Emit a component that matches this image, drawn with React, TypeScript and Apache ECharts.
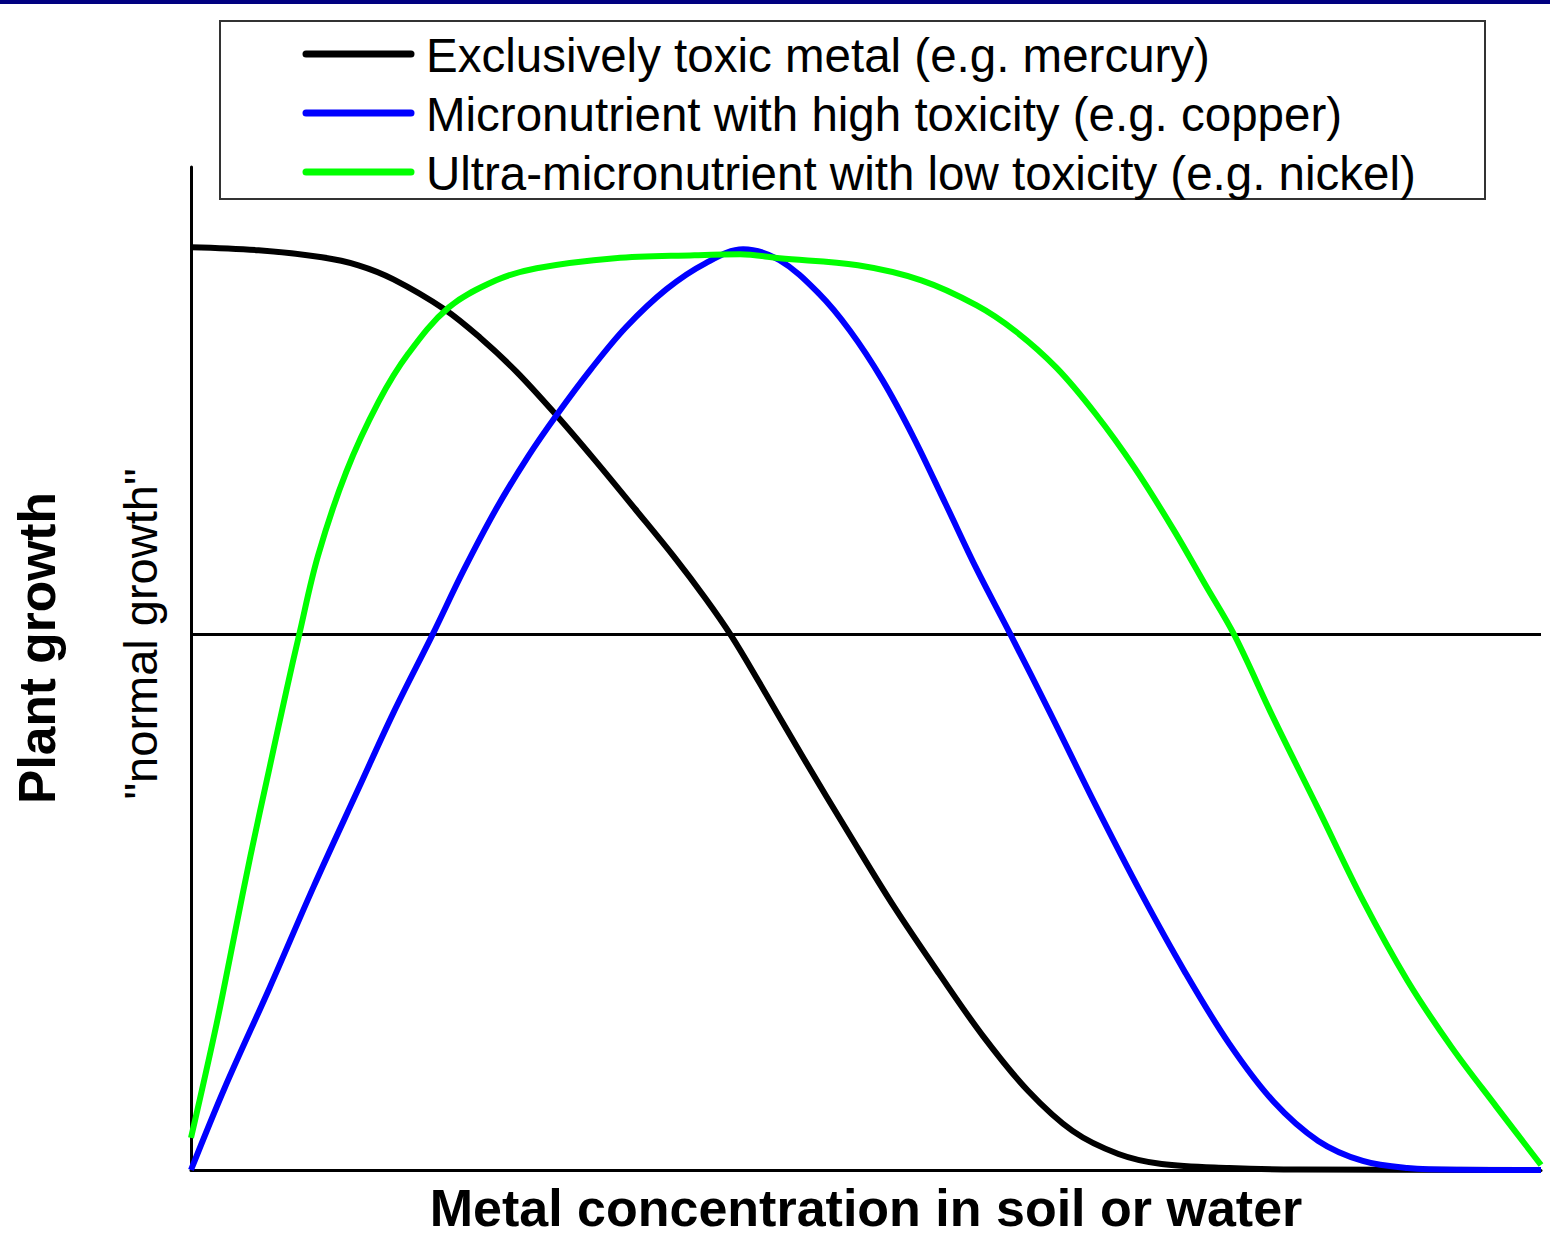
import React, { useEffect, useRef } from "react";
import * as echarts from "echarts";

// Series names (legend) and colours
const seriesNames = [
  "Exclusively toxic metal (e.g. mercury)",
  "Micronutrient with high toxicity (e.g. copper)",
  "Ultra-micronutrient with low toxicity (e.g. nickel)",
];
const seriesColors = ["#000000", "#0000FF", "#00FF00"];

// x: metal concentration (0-100), y: plant growth (0-100 of axis height)
const toxicMetal: [number, number][] = [
  [0, 92.0], [5.0, 91.7], [9.7, 91.0], [12.4, 90.2], [15.0, 88.8], [18.8, 85.8],
  [21.4, 83.0], [24.1, 79.6], [27.1, 75.2], [29.9, 70.8], [32.9, 65.9], [35.8, 61.1],
  [38.1, 57.0], [40.0, 53.3], [42.1, 48.6], [45.4, 41.0], [48.8, 33.4], [52.1, 26.2],
  [55.4, 19.6], [58.7, 13.3], [62.0, 7.9], [65.3, 3.9], [68.7, 1.6], [71.9, 0.6],
  [76.9, 0.2], [82.0, 0.05], [100, 0],
];
const micronutrient: [number, number][] = [
  [0, 0], [2.5, 8.2], [5.8, 18.1], [9.1, 28.3], [12.4, 38.0], [15.0, 45.6],
  [17.9, 53.4], [20.2, 59.8], [22.6, 65.9], [25.0, 71.2], [27.1, 75.3], [29.6, 79.8],
  [32.2, 84.0], [35.2, 87.8], [38.1, 90.4], [40.9, 91.8], [43.6, 90.7], [46.5, 87.4],
  [48.8, 83.7], [51.2, 78.8], [53.5, 73.1], [55.9, 66.4], [58.2, 59.9], [60.7, 53.4],
  [63.7, 45.4], [67.0, 36.4], [70.3, 27.8], [73.6, 19.8], [76.9, 12.6], [80.2, 6.8],
  [83.5, 2.9], [86.8, 0.9], [90.1, 0.2], [94.0, 0.02], [100, 0],
];
const ultraMicronutrient: [number, number][] = [
  [0, 3.2], [1.9, 14.6], [3.2, 23.3], [4.4, 31.3], [5.8, 40.0],
  [7.1, 48.0], [8.0, 53.3], [9.4, 61.2], [11.5, 69.6], [13.9, 76.6], [16.1, 81.4],
  [19.1, 86.0], [22.6, 88.7], [25.6, 89.9], [31.4, 90.9], [37.3, 91.2], [40.7, 91.3],
  [43.6, 90.9], [49.4, 90.2], [54.1, 88.7], [58.2, 86.2], [61.1, 83.6], [64.1, 80.0],
  [67.0, 75.4], [69.9, 70.0], [72.8, 63.8], [75.2, 58.2], [77.3, 53.3], [80.2, 45.0],
  [83.5, 36.0], [86.8, 26.9], [90.1, 18.9], [93.4, 12.2], [96.7, 6.3], [100, 0.5],
];
const normalGrowthLevel = 53.4;

// Text labels
const xTitle = "Metal concentration in soil or water";
const yTitle = "Plant growth";
const normalLabel = "\"normal growth\"";

const FONT = "'Liberation Sans', Arial, Helvetica, sans-serif";

export default function App() {
  const ref = useRef<HTMLDivElement>(null);

  useEffect(() => {
    document.body.style.margin = "0";
    if (!ref.current) return;
    const chart = echarts.init(ref.current, undefined, { renderer: "svg" });

    const gridLeft = 191;
    const gridTop = 167;
    const gridWidth = 1350;
    const gridHeight = 1003;

    const legendX = 220;
    const legendY = 21;
    const legendW = 1265;
    const legendH = 178;
    const rowGap = 59;
    const firstRowY = 54;

    const legendChildren: any[] = [
      {
        type: "rect",
        shape: { x: legendX, y: legendY, width: legendW, height: legendH },
        style: { fill: "#ffffff", stroke: "#333333", lineWidth: 2 },
      },
    ];
    seriesNames.forEach((name, i) => {
      const cy = firstRowY + i * rowGap;
      legendChildren.push({
        type: "line",
        shape: { x1: 306, y1: cy, x2: 411, y2: cy },
        style: { stroke: seriesColors[i], lineWidth: 7, lineCap: "round" },
      });
      legendChildren.push({
        type: "text",
        x: 426,
        y: cy + 1,
        style: {
          text: name,
          font: `47.5px ${FONT}`,
          fill: "#000000",
          align: "left",
          verticalAlign: "middle",
        },
      });
    });

    const datasets = [toxicMetal, micronutrient, ultraMicronutrient];

    chart.setOption({
      animation: false,
      backgroundColor: "#ffffff",
      grid: { left: gridLeft, top: gridTop, width: gridWidth, height: gridHeight },
      xAxis: {
        type: "value",
        min: 0,
        max: 100,
        axisLine: { show: true, lineStyle: { color: "#000", width: 3 } },
        axisTick: { show: false },
        axisLabel: { show: false },
        splitLine: { show: false },
      },
      yAxis: {
        type: "value",
        min: 0,
        max: 100,
        axisLine: { show: true, lineStyle: { color: "#000", width: 3 } },
        axisTick: { show: false },
        axisLabel: { show: false },
        splitLine: { show: false },
      },
      series: [
        {
          type: "line",
          name: "normal",
          data: [[0, normalGrowthLevel], [100, normalGrowthLevel]],
          showSymbol: false,
          lineStyle: { color: "#000", width: 3 },
          z: 1,
          silent: true,
        },
        ...datasets.map((d, i) => ({
          type: "line",
          name: seriesNames[i],
          data: d,
          smooth: 0.35,
          showSymbol: false,
          lineStyle: { color: seriesColors[i], width: 6, join: "round" },
          itemStyle: { color: seriesColors[i] },
          z: 2 + i,
        })),
      ],
      graphic: [
        {
          type: "rect",
          shape: { x: 0, y: 0, width: 1550, height: 4 },
          style: { fill: "#000080" },
        },
        { type: "group", children: legendChildren },
        {
          type: "text",
          x: 866,
          y: 1208,
          style: {
            text: xTitle,
            font: `bold 52px ${FONT}`,
            fill: "#000",
            align: "center",
            verticalAlign: "middle",
          },
        },
        {
          type: "text",
          x: 37,
          y: 648,
          rotation: Math.PI / 2,
          style: {
            text: yTitle,
            font: `bold 51.5px ${FONT}`,
            fill: "#000",
            align: "center",
            verticalAlign: "middle",
          },
        },
        {
          type: "text",
          x: 140,
          y: 634,
          rotation: Math.PI / 2,
          style: {
            text: normalLabel,
            font: `47px ${FONT}`,
            fill: "#000",
            align: "center",
            verticalAlign: "middle",
          },
        },
      ],
    });

    return () => chart.dispose();
  }, []);

  return (
    <div
      ref={ref}
      style={{ position: "absolute", left: 0, top: 0, width: 1550, height: 1237 }}
    />
  );
}
